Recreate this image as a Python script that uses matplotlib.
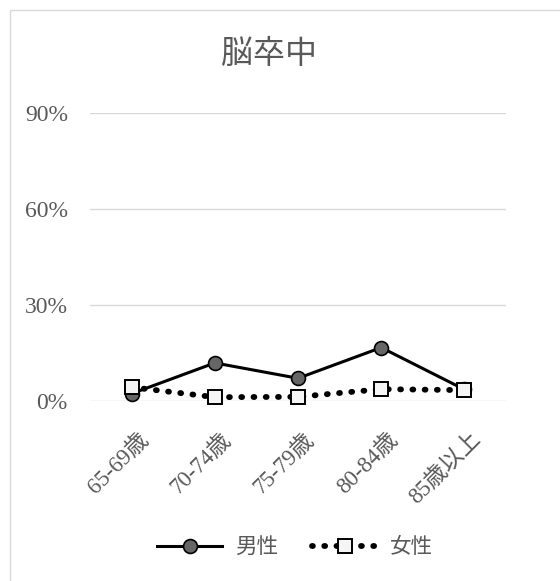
import matplotlib
matplotlib.use("Agg")
import matplotlib.pyplot as plt
import matplotlib.transforms as mtransforms
from matplotlib.patches import Rectangle
from matplotlib.ticker import FuncFormatter, MultipleLocator

plt.rcParams['font.family'] = ['Liberation Serif', 'Noto Sans CJK JP', 'DejaVu Sans']

categories = ['65-69歳', '70-74歳', '75-79歳', '80-84歳', '85歳以上']
male = [0.023, 0.119, 0.071, 0.167, 0.036]
female = [0.043, 0.012, 0.013, 0.037, 0.034]

TXT = '#595959'
GRID = '#d9d9d9'

fig = plt.figure(figsize=(5.6, 5.81), dpi=100)
fig.patches.append(Rectangle((10 / 560, -0.01), 1.0, (581 - 10) / 581 + 0.01,
                             transform=fig.transFigure, fill=False,
                             edgecolor=GRID, linewidth=1.0))

ax = fig.add_axes([90 / 560, 180 / 581, 416 / 560, 288 / 581])
x = list(range(len(categories)))

ax.plot(x, male, color='black', linewidth=2.2, marker='o', markersize=10,
        markerfacecolor='#666666', markeredgecolor='black', markeredgewidth=1.2,
        label='男性', zorder=3, clip_on=False)
ax.plot(x, female, color='black', linewidth=4.2, linestyle=(0, (0.15, 1.95)),
        dash_capstyle='round', marker='s', markersize=10,
        markerfacecolor='#f5f5f5', markeredgecolor='black', markeredgewidth=1.4,
        label='女性', zorder=4, clip_on=False)

ax.set_xlim(-0.5, len(categories) - 0.5)
ax.set_ylim(0, 0.9)
ax.yaxis.set_major_locator(MultipleLocator(0.3))
ax.yaxis.set_major_formatter(FuncFormatter(lambda v, p: f'{v * 100:.0f}%'))
ax.grid(axis='y', color=GRID, linewidth=1.0)
ax.set_axisbelow(True)
for s in ax.spines.values():
    s.set_visible(False)
ax.tick_params(axis='both', length=0, colors=TXT, labelsize=17)
ax.tick_params(axis='y', pad=16)
ax.set_xticks(x)
ax.set_xticklabels(categories, rotation=45, ha='right', va='top',
                   rotation_mode='anchor', fontsize=16.5)
ax.tick_params(axis='x', pad=20)
shift = mtransforms.ScaledTranslation(6 / 100, 0, fig.dpi_scale_trans)
for lbl in ax.get_xticklabels():
    lbl.set_transform(lbl.get_transform() + shift)

fig.text(269 / 560, 1 - 55 / 581, '脳卒中', ha='center', va='center',
         fontsize=23, color=TXT)

leg = fig.legend(loc='center', bbox_to_anchor=(295 / 560, 1 - 548 / 581),
                 ncol=2, frameon=False, handlelength=3.0, columnspacing=1.6,
                 handletextpad=0.6, fontsize=15.5)
for t in leg.get_texts():
    t.set_color(TXT)

fig.savefig('out.png', dpi=100)
